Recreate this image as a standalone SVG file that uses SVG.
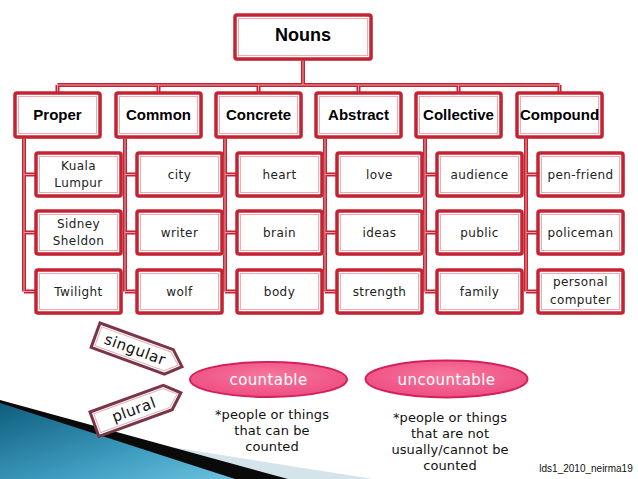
<svg xmlns="http://www.w3.org/2000/svg" width="638" height="479" viewBox="0 0 638 479">
<defs>
<style>
.bo{fill:#fff;stroke:#c62332;stroke-width:3.5}
.bi{fill:none;stroke:#f2a9b0;stroke-width:1}
.sh{fill:#b9b9b9;opacity:0.55}
.hd{font-family:"Liberation Sans",Arial,sans-serif;font-weight:bold;font-size:15px;fill:#000;text-anchor:middle}
.ch{font-family:"DejaVu Sans",Verdana,sans-serif;font-size:12px;letter-spacing:0.4px;fill:#222;text-anchor:middle}
.co{fill:none;stroke:#c62332;stroke-width:4}
.ci{fill:none;stroke:#f0a0a8;stroke-width:1}
.to{fill:#fff;stroke:#7b3546;stroke-width:3}
.ti{fill:none;stroke:#d9b2ba;stroke-width:1}
.tt{font-family:"DejaVu Sans",Verdana,sans-serif;font-size:15px;letter-spacing:0.5px;fill:#111;text-anchor:middle}
.el{fill:url(#pg);stroke:#d4205c;stroke-width:2}
.et{font-family:"DejaVu Sans",Verdana,sans-serif;font-size:15px;letter-spacing:0.4px;fill:#fff;text-anchor:middle}
.nt{font-family:"DejaVu Sans",Verdana,sans-serif;font-size:13px;letter-spacing:0.1px;fill:#111;text-anchor:middle}
</style>
<linearGradient id="bg" x1="0" y1="0" x2="1" y2="1">
<stop offset="0" stop-color="#0f5d7c"/>
<stop offset="0.6" stop-color="#3d9cc0"/>
<stop offset="1" stop-color="#6cc2de"/>
</linearGradient>
<radialGradient id="pg" cx="0.5" cy="0.4" r="0.6">
<stop offset="0" stop-color="#f7779d"/>
<stop offset="1" stop-color="#ee4d82"/>
</radialGradient>
</defs>
<rect width="638" height="479" fill="#fff"/>

<g id="background">
<polygon points="0,420 373,479 0,479" fill="#d5e3ea"/>
<polygon points="0,400 288,479 0,479" fill="#0a0a0a"/>
<polygon points="0,403 235,479 0,479" fill="url(#bg)"/>
</g>

<g id="connectors">
<path class="co" d="M303,59 V85 M57.5,85 H559.5 M57.5,85 V93 M158.5,85 V93 M258.5,85 V93 M358.5,85 V93 M458.5,85 V93 M559.5,85 V93"/>
<path class="ci" d="M303,59 V85 M57.5,85 H559.5 M57.5,85 V93 M158.5,85 V93 M258.5,85 V93 M358.5,85 V93 M458.5,85 V93 M559.5,85 V93"/>
<path class="co" d="M24,137 V291.5 M24,174.5 H36 M24,232.5 H36 M24,291.5 H36
M125,137 V291.5 M125,174.5 H137 M125,232.5 H137 M125,291.5 H137
M225,137 V291.5 M225,174.5 H237 M225,232.5 H237 M225,291.5 H237
M325,137 V291.5 M325,174.5 H337 M325,232.5 H337 M325,291.5 H337
M425,137 V291.5 M425,174.5 H437 M425,232.5 H437 M425,291.5 H437
M526,137 V291.5 M526,174.5 H538 M526,232.5 H538 M526,291.5 H538"/>
<path class="ci" d="M24,137 V291.5 M24,174.5 H36 M24,232.5 H36 M24,291.5 H36
M125,137 V291.5 M125,174.5 H137 M125,232.5 H137 M125,291.5 H137
M225,137 V291.5 M225,174.5 H237 M225,232.5 H237 M225,291.5 H237
M325,137 V291.5 M325,174.5 H337 M325,232.5 H337 M325,291.5 H337
M425,137 V291.5 M425,174.5 H437 M425,232.5 H437 M425,291.5 H437
M526,137 V291.5 M526,174.5 H538 M526,232.5 H538 M526,291.5 H538"/>
</g>

<g id="nouns">
<rect class="sh" x="237" y="17" width="136" height="44" rx="2"/>
<rect class="bo" x="235" y="15" width="136" height="44" rx="2"/>
<rect class="bi" x="238.5" y="18.5" width="129" height="37"/>
<text class="hd" x="303" y="41" style="font-size:18px">Nouns</text>
</g>

<g id="proper">
<rect class="sh" x="17" y="95" width="85" height="44" rx="2"/>
<rect class="bo" x="15" y="93" width="85" height="44" rx="2"/>
<rect class="bi" x="18.5" y="96.5" width="78" height="37"/>
<text class="hd" x="57.5" y="119.5">Proper</text>
</g>
<g id="common">
<rect class="sh" x="118" y="95" width="85" height="44" rx="2"/>
<rect class="bo" x="116" y="93" width="85" height="44" rx="2"/>
<rect class="bi" x="119.5" y="96.5" width="78" height="37"/>
<text class="hd" x="158.5" y="119.5">Common</text>
</g>
<g id="concrete">
<rect class="sh" x="218" y="95" width="85" height="44" rx="2"/>
<rect class="bo" x="216" y="93" width="85" height="44" rx="2"/>
<rect class="bi" x="219.5" y="96.5" width="78" height="37"/>
<text class="hd" x="258.5" y="119.5">Concrete</text>
</g>
<g id="abstract">
<rect class="sh" x="318" y="95" width="85" height="44" rx="2"/>
<rect class="bo" x="316" y="93" width="85" height="44" rx="2"/>
<rect class="bi" x="319.5" y="96.5" width="78" height="37"/>
<text class="hd" x="358.5" y="119.5">Abstract</text>
</g>
<g id="collective">
<rect class="sh" x="418" y="95" width="85" height="44" rx="2"/>
<rect class="bo" x="416" y="93" width="85" height="44" rx="2"/>
<rect class="bi" x="419.5" y="96.5" width="78" height="37"/>
<text class="hd" x="458.5" y="119.5">Collective</text>
</g>
<g id="compound">
<rect class="sh" x="519" y="95" width="85" height="44" rx="2"/>
<rect class="bo" x="517" y="93" width="85" height="44" rx="2"/>
<rect class="bi" x="520.5" y="96.5" width="78" height="37"/>
<text class="hd" x="559.5" y="119.5">Compound</text>
</g>

<g id="kuala-lumpur">
<rect class="sh" x="38" y="155" width="85" height="43" rx="2"/>
<rect class="bo" x="36" y="153" width="85" height="43" rx="2"/>
<rect class="bi" x="39.5" y="156.5" width="78" height="36"/>
<text class="ch" x="78.5" y="169.5">Kuala</text>
<text class="ch" x="78.5" y="186.5">Lumpur</text>
</g>
<g id="sidney-sheldon">
<rect class="sh" x="38" y="213" width="85" height="43" rx="2"/>
<rect class="bo" x="36" y="211" width="85" height="43" rx="2"/>
<rect class="bi" x="39.5" y="214.5" width="78" height="36"/>
<text class="ch" x="78.5" y="227.5">Sidney</text>
<text class="ch" x="78.5" y="245">Sheldon</text>
</g>
<g id="twilight">
<rect class="sh" x="38" y="272" width="85" height="43" rx="2"/>
<rect class="bo" x="36" y="270" width="85" height="43" rx="2"/>
<rect class="bi" x="39.5" y="273.5" width="78" height="36"/>
<text class="ch" x="78.5" y="295.5">Twilight</text>
</g>

<g id="city">
<rect class="sh" x="139" y="155" width="85" height="43" rx="2"/>
<rect class="bo" x="137" y="153" width="85" height="43" rx="2"/>
<rect class="bi" x="140.5" y="156.5" width="78" height="36"/>
<text class="ch" x="179.5" y="178.5">city</text>
</g>
<g id="writer">
<rect class="sh" x="139" y="213" width="85" height="43" rx="2"/>
<rect class="bo" x="137" y="211" width="85" height="43" rx="2"/>
<rect class="bi" x="140.5" y="214.5" width="78" height="36"/>
<text class="ch" x="179.5" y="236.5">writer</text>
</g>
<g id="wolf">
<rect class="sh" x="139" y="272" width="85" height="43" rx="2"/>
<rect class="bo" x="137" y="270" width="85" height="43" rx="2"/>
<rect class="bi" x="140.5" y="273.5" width="78" height="36"/>
<text class="ch" x="179.5" y="295.5">wolf</text>
</g>

<g id="heart">
<rect class="sh" x="239" y="155" width="85" height="43" rx="2"/>
<rect class="bo" x="237" y="153" width="85" height="43" rx="2"/>
<rect class="bi" x="240.5" y="156.5" width="78" height="36"/>
<text class="ch" x="279.5" y="178.5">heart</text>
</g>
<g id="brain">
<rect class="sh" x="239" y="213" width="85" height="43" rx="2"/>
<rect class="bo" x="237" y="211" width="85" height="43" rx="2"/>
<rect class="bi" x="240.5" y="214.5" width="78" height="36"/>
<text class="ch" x="279.5" y="236.5">brain</text>
</g>
<g id="body">
<rect class="sh" x="239" y="272" width="85" height="43" rx="2"/>
<rect class="bo" x="237" y="270" width="85" height="43" rx="2"/>
<rect class="bi" x="240.5" y="273.5" width="78" height="36"/>
<text class="ch" x="279.5" y="295.5">body</text>
</g>

<g id="love">
<rect class="sh" x="339" y="155" width="85" height="43" rx="2"/>
<rect class="bo" x="337" y="153" width="85" height="43" rx="2"/>
<rect class="bi" x="340.5" y="156.5" width="78" height="36"/>
<text class="ch" x="379.5" y="178.5">love</text>
</g>
<g id="ideas">
<rect class="sh" x="339" y="213" width="85" height="43" rx="2"/>
<rect class="bo" x="337" y="211" width="85" height="43" rx="2"/>
<rect class="bi" x="340.5" y="214.5" width="78" height="36"/>
<text class="ch" x="379.5" y="236.5">ideas</text>
</g>
<g id="strength">
<rect class="sh" x="339" y="272" width="85" height="43" rx="2"/>
<rect class="bo" x="337" y="270" width="85" height="43" rx="2"/>
<rect class="bi" x="340.5" y="273.5" width="78" height="36"/>
<text class="ch" x="379.5" y="295.5">strength</text>
</g>

<g id="audience">
<rect class="sh" x="439" y="155" width="85" height="43" rx="2"/>
<rect class="bo" x="437" y="153" width="85" height="43" rx="2"/>
<rect class="bi" x="440.5" y="156.5" width="78" height="36"/>
<text class="ch" x="479.5" y="178.5">audience</text>
</g>
<g id="public">
<rect class="sh" x="439" y="213" width="85" height="43" rx="2"/>
<rect class="bo" x="437" y="211" width="85" height="43" rx="2"/>
<rect class="bi" x="440.5" y="214.5" width="78" height="36"/>
<text class="ch" x="479.5" y="236.5">public</text>
</g>
<g id="family">
<rect class="sh" x="439" y="272" width="85" height="43" rx="2"/>
<rect class="bo" x="437" y="270" width="85" height="43" rx="2"/>
<rect class="bi" x="440.5" y="273.5" width="78" height="36"/>
<text class="ch" x="479.5" y="295.5">family</text>
</g>

<g id="pen-friend">
<rect class="sh" x="540" y="155" width="85" height="43" rx="2"/>
<rect class="bo" x="538" y="153" width="85" height="43" rx="2"/>
<rect class="bi" x="541.5" y="156.5" width="78" height="36"/>
<text class="ch" x="580.5" y="178.5">pen-friend</text>
</g>
<g id="policeman">
<rect class="sh" x="540" y="213" width="85" height="43" rx="2"/>
<rect class="bo" x="538" y="211" width="85" height="43" rx="2"/>
<rect class="bi" x="541.5" y="214.5" width="78" height="36"/>
<text class="ch" x="580.5" y="236.5">policeman</text>
</g>
<g id="personal-computer">
<rect class="sh" x="540" y="272" width="85" height="43" rx="2"/>
<rect class="bo" x="538" y="270" width="85" height="43" rx="2"/>
<rect class="bi" x="541.5" y="273.5" width="78" height="36"/>
<text class="ch" x="580.5" y="286">personal</text>
<text class="ch" x="580.5" y="304">computer</text>
</g>

<g id="singular" transform="translate(100,323) rotate(20)">
<path class="to" d="M0,0 H78 L92,13 L78,26 H0 Z"/>
<path class="ti" d="M3,3 H76.5 L88,13 L76.5,23 H3 Z"/>
<text class="tt" x="42" y="18">singular</text>
</g>
<g id="plural" transform="translate(90,412) rotate(-20)">
<path class="to" d="M0,0 H78 L92,13 L78,26 H0 Z"/>
<path class="ti" d="M3,3 H76.5 L88,13 L76.5,23 H3 Z"/>
<text class="tt" x="42" y="18">plural</text>
</g>

<g id="countable">
<ellipse class="el" cx="268.5" cy="379.5" rx="78.5" ry="17.5"/>
<text class="et" x="268.5" y="384.5">countable</text>
</g>
<g id="uncountable">
<ellipse class="el" cx="446.5" cy="379" rx="81" ry="18.5"/>
<text class="et" x="446.5" y="384.5">uncountable</text>
</g>

<g id="notes">
<text class="nt" x="272" y="419">*people or things</text>
<text class="nt" x="272" y="435">that can be</text>
<text class="nt" x="272" y="451">counted</text>
<text class="nt" x="450" y="422">*people or things</text>
<text class="nt" x="450" y="438">that are not</text>
<text class="nt" x="450" y="454">usually/cannot be</text>
<text class="nt" x="450" y="470">counted</text>
<text x="586" y="472" style="font-family:'Liberation Sans',Arial,sans-serif;font-size:10px;fill:#111;text-anchor:middle">lds1_2010_neirma19</text>
</g>
</svg>
